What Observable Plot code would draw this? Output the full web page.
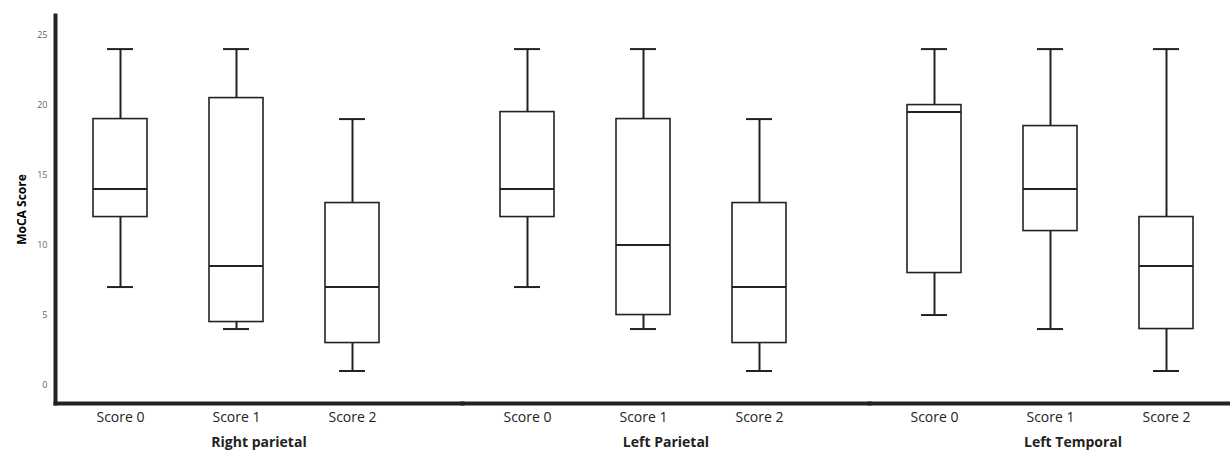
<!DOCTYPE html>
<html>
<head>
<meta charset="utf-8">
<script src="https://cdn.jsdelivr.net/npm/d3@7"></script>
<script src="https://cdn.jsdelivr.net/npm/@observablehq/plot@0.6"></script>
<style>
  html, body { margin: 0; padding: 0; background: #fff; overflow: hidden; }
  #chart svg { font-family: "Open Sans", "Liberation Sans", sans-serif; display: block; max-width: none !important; }
  g[aria-label="y-axis tick label"] { color: #666; fill: #666; }
  g[aria-label="y-axis label"] text { font-weight: bold; font-size: 12px; }
  g[aria-label="fx-axis tick label"] text { font-weight: bold; }
</style>
</head>
<body>
<div id="chart"></div>
<script>
// ---- data ----
const regions = ["Right parietal", "Left Parietal", "Left Temporal"];
const scores = ["Score 0", "Score 1", "Score 2"];
const yTicks = [0, 5, 10, 15, 20, 25];

// per region, in score order
const whiskerLow  = [[7, 4, 1], [7, 4, 1], [5, 4, 1]];
const quartile1   = [[12, 4.5, 3], [12, 5, 3], [8, 11, 4]];
const medians     = [[14, 8.5, 7], [14, 10, 7], [19.5, 14, 8.5]];
const quartile3   = [[19, 20.5, 13], [19.5, 19, 13], [20, 18.5, 12]];
const whiskerHigh = [[24, 24, 19], [24, 24, 19], [24, 24, 24]];

const rows = [];
regions.forEach((region, i) => {
  scores.forEach((score, j) => {
    rows.push({
      region, score,
      min: whiskerLow[i][j], q1: quartile1[i][j], median: medians[i][j],
      q3: quartile3[i][j], max: whiskerHigh[i][j]
    });
  });
});

const ink = "#222";
const yDomain = [-1.32, 26.4];

const chart = Plot.plot({
  width: 1280,
  height: 453,
  marginLeft: 55,
  marginRight: 4,
  marginTop: 15,
  marginBottom: 50,
  fx: { domain: regions, padding: 0 },
  x: { domain: scores, paddingInner: 0.5365, paddingOuter: 0.515, align: 0.317 },
  y: { domain: yDomain },
  marks: [
    Plot.ruleX(rows, { fx: "region", x: "score", y1: "min", y2: "q1", stroke: ink, strokeWidth: 2 }),
    Plot.ruleX(rows, { fx: "region", x: "score", y1: "q3", y2: "max", stroke: ink, strokeWidth: 2 }),
    Plot.tickY(rows, { fx: "region", x: "score", y: "min", stroke: ink, strokeWidth: 2, insetLeft: 14, insetRight: 14 }),
    Plot.tickY(rows, { fx: "region", x: "score", y: "max", stroke: ink, strokeWidth: 2, insetLeft: 14, insetRight: 14 }),
    Plot.barY(rows, { fx: "region", x: "score", y1: "q1", y2: "q3", fill: "white", stroke: ink, strokeWidth: 1.6 }),
    Plot.tickY(rows, { fx: "region", x: "score", y: "median", stroke: ink, strokeWidth: 2 }),
    // axis lines
    Plot.frame({ anchor: "bottom", stroke: ink, strokeWidth: 4, strokeLinecap: "square" }),
    Plot.frame({ anchor: "left", fx: regions[0], stroke: ink, strokeWidth: 4, strokeLinecap: "square" }),
    Plot.axisY({
      ticks: yTicks, tickSize: 0, tickPadding: 8, fontSize: 9,
      label: "MoCA Score", labelAnchor: "center", labelOffset: 38, labelArrow: "none"
    }),
    Plot.axisX({
      tickSize: 0, tickPadding: 9, fontSize: 14,
      label: null, fill: "#222"
    }),
    Plot.axisFx({
      anchor: "bottom", tickSize: 0, tickPadding: 34, fontSize: 14, fontWeight: "bold",
      label: null, fill: "#222"
    })
  ]
});

document.getElementById("chart").appendChild(chart);
</script>
</body>
</html>
